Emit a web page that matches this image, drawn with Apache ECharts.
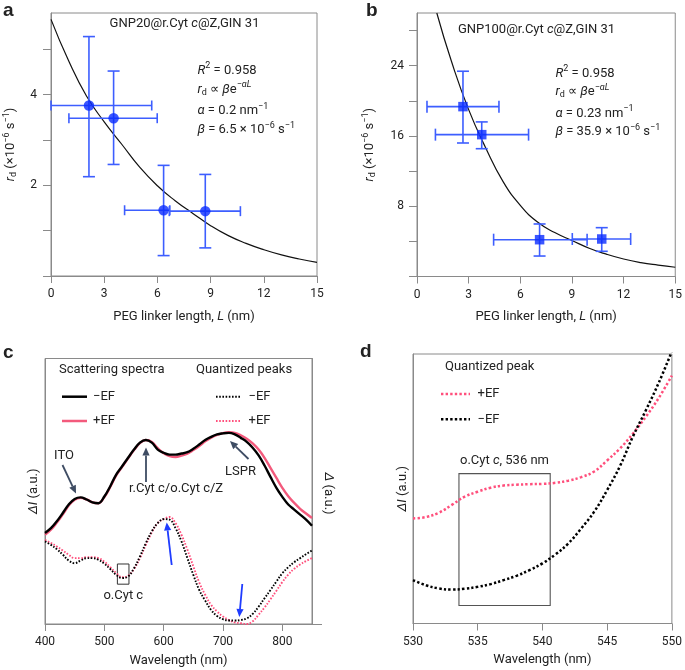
<!DOCTYPE html>
<html><head><meta charset="utf-8">
<script src="https://cdn.jsdelivr.net/npm/echarts@6/dist/echarts.min.js"></script>
<style>html,body{margin:0;padding:0;background:#fff}#c{width:685px;height:670px}</style>
</head><body><div id="c"></div>
<script>
// ---------- Panel a data ----------
const aL      = [2.14, 3.53, 6.35, 8.70];
const aRd     = [3.76, 3.48, 1.45, 1.43];
const aLLow   = [0.00, 1.01, 4.15, 6.67];
const aLHigh  = [5.68, 5.99, 6.70, 10.68];
const aRdLow  = [2.19, 2.46, 0.45, 0.62];
const aRdHigh = [5.28, 4.52, 2.44, 2.24];
const aFitL   = [0,1,2,3,4,5,6,7,8,9,10,11,12,13,14,15];
const aFitRd  = [5.66,4.74,3.97,3.40,2.90,2.40,1.99,1.66,1.38,1.11,0.89,0.72,0.58,0.465,0.375,0.30];
const aYTicks = [0,1,2,3,4,5];
const aYLabels = [2,4];
const xLTicks = [0,3,6,9,12,15];

// ---------- Panel b data ----------
const bL      = [2.67, 3.76, 7.12, 10.73];
const bRd     = [19.34, 16.15, 4.19, 4.27];
const bLLow   = [0.58, 1.07, 4.45, 9.02];
const bLHigh  = [4.76, 6.48, 9.88, 12.41];
const bRdLow  = [15.2, 14.55, 2.33, 2.87];
const bRdHigh = [23.37, 17.6, 5.98, 5.56];
const bFitL   = [1.15,2,3,4,5,6,7,8,9,10,11,12,13,14,15];
const bFitRd  = [30,24.5,19.0,14.6,10.8,8.1,6.2,5.0,4.1,3.22,2.54,1.99,1.58,1.29,1.05];
const bYTicks = [0,4,8,12,16,20,24,28];
const bYLabels = [8,16,24];

// ---------- Panel c data ----------
const cWl = [400,410,420,430,440,450,460,470,480,490,500,510,520,530,540,550,560,570,580,590,600,610,620,630,640,650,660,670,680,690,700,710,720,730,740,750,760,770,780,790,800,810,820,830,840,850];
const cScatMinus = [34.3,36.1,38.7,41.8,45.0,47.1,47.7,46.9,45.8,45.5,48.0,51.9,56.3,59.4,62.6,65.7,68.3,69.3,68.3,65.7,64.5,63.8,63.8,64.2,64.7,66.0,67.6,69.3,70.5,71.4,71.8,72.0,71.4,70.1,68.6,66.4,63.5,59.7,55.4,51.3,47.9,45.0,43.1,41.2,39.3,37.0];
const cScatPlus  = [33.6,35.5,38.2,41.3,44.6,46.8,47.5,46.9,45.8,45.5,47.8,51.6,56.0,59.2,62.4,65.5,68.1,69.3,68.6,66.2,64.3,63.2,62.9,63.4,64.2,65.5,67.0,68.8,70.2,71.2,71.9,72.2,72.0,71.1,69.8,68.0,65.7,62.6,58.8,55.0,51.3,48.1,45.6,43.4,41.6,39.9];
const cQuantMinus = [31.1,29.8,28.2,26.1,23.9,22.9,23.9,24.8,24.8,24.2,22.7,20.7,18.5,17.3,17.9,21.0,25.4,30.5,34.9,38.0,39.5,39.3,36.1,31.1,24.8,18.5,12.8,8.8,5.3,3.0,1.8,1.3,1.3,1.5,2.1,3.8,6.5,9.7,12.8,16.0,19.1,21.4,23.3,24.8,26.3,27.7];
const cQuantPlus  = [31.7,30.5,29.2,27.7,26.1,24.8,24.8,25.2,25.2,24.8,23.5,21.4,19.2,17.6,18.1,20.7,24.8,29.8,34.5,38.0,39.5,40.3,38.0,33.6,28.0,21.7,15.6,11.0,7.2,4.7,2.8,1.5,0.6,0.3,0.0,1.0,3.5,6.2,9.3,12.5,15.8,18.6,20.8,22.4,23.7,24.8];
const cXTicks = [400,500,600,700,800];

// ---------- Panel d data ----------
const dWl = [530,531,532,533,534,535,536,537,538,539,540,541,542,543,544,545,546,547,548,549,550];
const dPlus  = [39.0,39.5,41.1,44.0,47.1,48.9,50.4,51.2,51.5,51.7,51.8,52.2,53.0,54.3,56.4,60.5,65.0,70.5,76.8,83.8,92.0];
const dMinus = [16.1,14.2,13.0,12.6,12.9,13.6,14.6,16.1,17.7,19.8,22.3,25.6,29.7,35.3,41.5,49.5,58.5,69.5,79.2,89.5,101];
const dXTicks = [530,535,540,545,550];
const dBox = [[533.55, 6.7],[540.6, 55.6]];
const cBox = [[522, 15.0],[541.5, 22.6]];

// ---------- style ----------
const T = '#222';
const F = 'Roboto, "Liberation Sans", Arial, sans-serif';
const FS = 13;
const GRAY = '#8a8a8a';
const BLUE = '#0a2cff', BLUE_BAR = '#3d5eff';
const PINK = '#f35a7c', PINK_DOT = '#ff4f7c';
const rich = {
  i:    {fontStyle:'italic', fontSize:FS, fontFamily:F, color:T, fill:T},
  sup:  {fontSize:9, fontFamily:F, color:T, fill:T, padding:[0,0,9,0]},
  supi: {fontSize:9, fontFamily:F, fontStyle:'italic', color:T, fill:T, padding:[0,0,9,0]},
  sub:  {fontSize:9, fontFamily:F, color:T, fill:T, padding:[6,0,0,0]}
};

const zip = (xs, ys) => xs.map((x,i)=>[x, ys[i]]);

function errRender(capV, capH){
  return function(params, api){
    const x=api.value(0), y=api.value(1), xl=api.value(2), xh=api.value(3), yl=api.value(4), yh=api.value(5);
    const pL=api.coord([xl,y]), pR=api.coord([xh,y]), pB=api.coord([x,yl]), pT=api.coord([x,yh]);
    const st={stroke:BLUE_BAR, lineWidth:1.6, fill:null};
    const ln=(x1,y1,x2,y2)=>({type:'line', shape:{x1,y1,x2,y2}, style:st});
    return {type:'group', children:[
      ln(pL[0],pL[1],pR[0],pR[1]),
      ln(pL[0],pL[1]-capH/2,pL[0],pL[1]+capH/2),
      ln(pR[0],pR[1]-capH/2,pR[0],pR[1]+capH/2),
      ln(pB[0],pB[1],pT[0],pT[1]),
      ln(pB[0]-capV/2,pB[1],pB[0]+capV/2,pB[1]),
      ln(pT[0]-capV/2,pT[1],pT[0]+capV/2,pT[1])
    ]};
  };
}

const LBL = {color:T, fontSize:12, fontFamily:F};
function axisBase(extra){
  return Object.assign({
    type:'value',
    axisLine:{show:true, onZero:false, lineStyle:{color:GRAY, width:1}},
    axisTick:{show:true, inside:false, length:7, lineStyle:{color:GRAY, width:1}},
    axisLabel:LBL,
    splitLine:{show:false},
    nameTextStyle:{color:T, fontSize:FS, fontFamily:F, rich:rich}
  }, extra);
}

const xAxes = [
  axisBase({gridIndex:0, min:0, max:15, interval:3,
    axisTick:{show:true, length:7, lineStyle:{color:GRAY}, customValues:xLTicks},
    axisLabel:Object.assign({margin:12, customValues:xLTicks}, LBL),
    name:'PEG linker length, {i|L} (nm)', nameLocation:'middle', nameGap:34}),
  axisBase({gridIndex:1, min:0, max:15, interval:3,
    axisTick:{show:true, length:7, lineStyle:{color:GRAY}, customValues:xLTicks},
    axisLabel:Object.assign({margin:12, customValues:xLTicks}, LBL),
    name:'PEG linker length, {i|L} (nm)', nameLocation:'middle', nameGap:34}),
  axisBase({gridIndex:2, min:400, max:850, interval:50,
    axisTick:{show:true, length:7, lineStyle:{color:GRAY}, customValues:cXTicks},
    axisLabel:Object.assign({margin:12, customValues:cXTicks}, LBL),
    name:'Wavelength (nm)', nameLocation:'middle', nameGap:30}),
  axisBase({gridIndex:3, min:530, max:550, interval:5,
    axisTick:{show:true, length:7, lineStyle:{color:GRAY}, customValues:dXTicks},
    axisLabel:Object.assign({margin:12, customValues:dXTicks}, LBL),
    name:'Wavelength (nm)', nameLocation:'middle', nameGap:30})
];

const yAxes = [
  axisBase({gridIndex:0, min:0, max:5.8, interval:1,
    axisTick:{show:true, length:8, lineStyle:{color:GRAY}, customValues:aYTicks},
    axisLabel:Object.assign({margin:14, customValues:aYLabels}, LBL),
    name:'{i|r}{sub|d} (×10{sup|−6} s{sup|−1})', nameLocation:'middle', nameGap:31}),
  axisBase({gridIndex:1, min:0, max:30, interval:4,
    axisTick:{show:true, length:8, lineStyle:{color:GRAY}, customValues:bYTicks},
    axisLabel:Object.assign({margin:13, customValues:bYLabels}, LBL),
    name:'{i|r}{sub|d} (×10{sup|−6} s{sup|−1})', nameLocation:'middle', nameGap:38}),
  axisBase({gridIndex:2, min:0, max:100, interval:50,
    axisTick:{show:false}, axisLabel:{show:false},
    name:'{i|ΔI} (a.u.)', nameLocation:'middle', nameGap:5}),
  axisBase({gridIndex:2, min:0, max:100, interval:50, position:'right',
    axisTick:{show:true, length:10, lineStyle:{color:GRAY}, customValues:[0]}, axisLabel:{show:false}}),
  axisBase({gridIndex:3, min:0, max:100, interval:50,
    axisTick:{show:false}, axisLabel:{show:false},
    name:'{i|ΔI} (a.u.)', nameLocation:'middle', nameGap:4})
];

const gridStyle = {show:true, borderColor:GRAY, borderWidth:1, backgroundColor:'transparent', containLabel:false};
const grids = [
  Object.assign({left:51, top:13, width:266, height:263}, gridStyle),
  Object.assign({left:417, top:13, width:260, height:263.5}, gridStyle),
  Object.assign({left:45, top:358.5, width:267, height:265.5}, gridStyle),
  Object.assign({left:413, top:354, width:262, height:269.5}, gridStyle)
];

const series = [
  // panel a
  {type:'line', xAxisIndex:0, yAxisIndex:0, data:zip(aFitL,aFitRd), smooth:true, showSymbol:false,
    lineStyle:{color:'#111', width:1.2}, z:2, silent:true},
  {type:'custom', xAxisIndex:0, yAxisIndex:0, clip:false, z:3, renderItem:errRender(12,10),
    data:aL.map((v,i)=>[v,aRd[i],aLLow[i],aLHigh[i],aRdLow[i],aRdHigh[i]])},
  {type:'scatter', xAxisIndex:0, yAxisIndex:0, data:zip(aL,aRd), symbol:'circle', symbolSize:10.5,
    itemStyle:{color:BLUE}, z:4},
  // panel b
  {type:'line', xAxisIndex:1, yAxisIndex:1, data:zip(bFitL,bFitRd), smooth:true, showSymbol:false,
    lineStyle:{color:'#111', width:1.2}, z:2, silent:true},
  {type:'custom', xAxisIndex:1, yAxisIndex:1, clip:false, z:3, renderItem:errRender(12,12),
    data:bL.map((v,i)=>[v,bRd[i],bLLow[i],bLHigh[i],bRdLow[i],bRdHigh[i]])},
  {type:'scatter', xAxisIndex:1, yAxisIndex:1, data:zip(bL,bRd), symbol:'rect', symbolSize:9.5,
    itemStyle:{color:BLUE}, z:4},
  // panel c
  {type:'line', xAxisIndex:2, yAxisIndex:2, data:zip(cWl,cScatMinus), smooth:0.4, showSymbol:false,
    lineStyle:{color:'#000', width:2.4}, z:3},
  {type:'line', xAxisIndex:2, yAxisIndex:2, data:zip(cWl,cScatPlus), smooth:0.4, showSymbol:false,
    lineStyle:{color:PINK, width:2.4}, z:2},
  {type:'line', xAxisIndex:2, yAxisIndex:2, data:zip(cWl,cQuantMinus), smooth:0.4, showSymbol:false,
    lineStyle:{color:'#000', width:1.9, type:[1.6,1.6]}, z:3,
    markArea:{silent:true, itemStyle:{color:'rgba(0,0,0,0)', borderColor:'#333', borderWidth:1},
      data:[[{coord:cBox[0]},{coord:cBox[1]}]]}},
  {type:'line', xAxisIndex:2, yAxisIndex:2, data:zip(cWl,cQuantPlus), smooth:0.4, showSymbol:false,
    lineStyle:{color:PINK_DOT, width:1.9, type:[1.6,1.6]}, z:2},
  // panel d
  {type:'line', xAxisIndex:3, yAxisIndex:4, data:zip(dWl,dPlus), smooth:0.4, showSymbol:false,
    lineStyle:{color:PINK_DOT, width:2.5, type:[2.4,2.2]}, z:2,
    markArea:{silent:true, itemStyle:{color:'rgba(0,0,0,0)', borderColor:'#555', borderWidth:1.1},
      data:[[{coord:dBox[0]},{coord:dBox[1]}]]}},
  {type:'line', xAxisIndex:3, yAxisIndex:4, data:zip(dWl,dMinus), smooth:0.4, showSymbol:false,
    lineStyle:{color:'#000', width:2.5, type:[2.4,2.2]}, z:3}
];

// ---------- annotations ----------
function txt(x, y, text, opt){
  return {type:'text', x:x, y:y, silent:true, z:10, rotation:(opt&&opt.rotation)||0,
    style:Object.assign({text:text, fill:T, fontSize:FS, fontFamily:F, align:'left', verticalAlign:'middle', rich:rich}, (opt&&opt.style)||{})};
}
function arrow(x1,y1,x2,y2,color,w){
  const ang=Math.atan2(y2-y1,x2-x1), hl=8, hw=3.6;
  const bx=x2-hl*Math.cos(ang), by=y2-hl*Math.sin(ang);
  const px=-Math.sin(ang)*hw, py=Math.cos(ang)*hw;
  return [
    {type:'line', silent:true, z:10, shape:{x1:x1,y1:y1,x2:bx,y2:by}, style:{stroke:color, lineWidth:w}},
    {type:'polygon', silent:true, z:10, shape:{points:[[x2,y2],[bx+px,by+py],[bx-px,by-py]]}, style:{fill:color}}
  ];
}
function sample(x1,x2,y,color,w,dash){
  return {type:'line', silent:true, z:10, shape:{x1:x1,y1:y,x2:x2,y2:y},
    style:{stroke:color, lineWidth:w, lineDash:dash||null}};
}
const ARW = '#3e4c63', BARW = '#1f3cff';
const bold = {fontSize:19, fontWeight:'bold', fontFamily:'"Liberation Sans", Arial, sans-serif', verticalAlign:'top'};

const graphic = [
  txt(3, 1, 'a', {style:bold}),
  txt(366, 1, 'b', {style:bold}),
  txt(3, 343, 'c', {style:bold}),
  txt(360, 342, 'd', {style:bold}),
  // panel a texts
  txt(184.5, 23.5, 'GNP20@r.Cyt {i|c}@Z,GIN 31', {style:{align:'center'}}),
  txt(197.5, 70.5, '{i|R}{sup|2} = 0.958'),
  txt(197.5, 89.5, '{i|r}{sub|d} ∝ {i|β}e{sup|−}{supi|αL}'),
  txt(197.5, 111, '{i|α} = 0.2 nm{sup|−1}'),
  txt(197.5, 130, '{i|β} = 6.5 × 10{sup|−6} s{sup|−1}'),
  // panel b texts
  txt(536.5, 29.5, 'GNP100@r.Cyt {i|c}@Z,GIN 31', {style:{align:'center'}}),
  txt(555.5, 73.5, '{i|R}{sup|2} = 0.958'),
  txt(555.5, 92, '{i|r}{sub|d} ∝ {i|β}e{sup|−}{supi|αL}'),
  txt(555.5, 113.5, '{i|α} = 0.23 nm{sup|−1}'),
  txt(555.5, 132, '{i|β} = 35.9 × 10{sup|−6} s{sup|−1}'),
  // panel c legend
  txt(59, 370, 'Scattering spectra'),
  txt(196, 370, 'Quantized peaks'),
  sample(62, 87, 396.7, '#000', 2.5),
  txt(93, 396.7, '−EF'),
  sample(62, 87, 421, PINK, 2.5),
  txt(93, 421, '+EF'),
  sample(216, 241, 396.7, '#000', 1.9, [1.6,1.6]),
  txt(248.5, 396.7, '−EF'),
  sample(216, 241, 421, PINK_DOT, 1.9, [1.6,1.6]),
  txt(248.5, 421, '+EF'),
  // panel c annotations
  txt(64, 455.7, 'ITO', {style:{align:'center'}}),
  ...arrow(62.5, 465, 76, 493.5, ARW, 1.8),
  txt(176, 489, 'r.Cyt c/o.Cyt c/Z', {style:{align:'center'}}),
  ...arrow(146, 482, 146, 447.5, ARW, 1.8),
  txt(240.5, 471.7, 'LSPR', {style:{align:'center'}}),
  ...arrow(248.5, 459, 230, 441, ARW, 1.8),
  ...arrow(171.7, 565, 166.7, 522.5, BARW, 1.8),
  ...arrow(242.3, 584, 239.3, 617, BARW, 1.8),
  txt(123.3, 596, 'o.Cyt c', {style:{align:'center'}}),
  txt(328.5, 493.5, '{i|Δ} (a.u.)', {rotation:-Math.PI/2, style:{align:'center'}}),
  // panel d legend
  txt(445, 367, 'Quantized peak'),
  sample(441, 470, 394, PINK_DOT, 2.5, [2.4,2.2]),
  txt(477.5, 394, '+EF'),
  sample(441, 470, 419.3, '#000', 2.5, [2.4,2.2]),
  txt(477.5, 419.3, '−EF'),
  txt(504.5, 461, 'o.Cyt {i|c}, 536 nm', {style:{align:'center'}})
];

const chart = echarts.init(document.getElementById('c'), null, {renderer:'canvas', width:685, height:670});
chart.setOption({
  animation:false,
  backgroundColor:'#fff',
  textStyle:{fontFamily:F},
  grid:grids, xAxis:xAxes, yAxis:yAxes, series:series, graphic:graphic
});
</script>
</body></html>
